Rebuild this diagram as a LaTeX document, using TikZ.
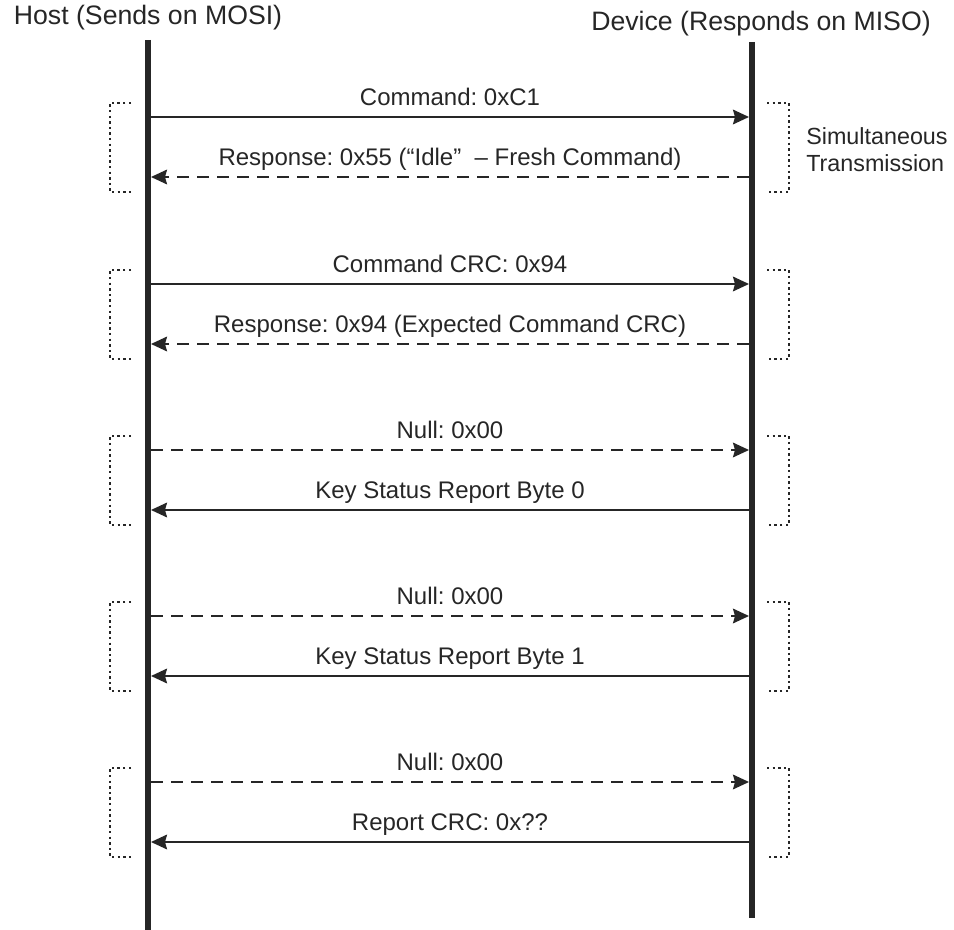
\documentclass[tikz,border=0pt]{standalone}
\usepackage{fontspec}
\setmainfont{Liberation Sans}
\usetikzlibrary{arrows.meta}
\frenchspacing

\begin{document}
\begin{tikzpicture}[x=0.75pt,y=-0.75pt,
    every node/.style={font=\fontsize{18}{20.25}\selectfont, text=black!85},
    header/.style={anchor=base, font=\fontsize{20}{24}\selectfont},
    lifeline/.style={line width=5.2pt, black!85},
    msg/.style={line width=1.6pt, black!85, -{Stealth[length=12pt,width=11pt,inset=1.5pt]}},
    dmsg/.style={msg, dash pattern=on 9pt off 6pt},
    bracket/.style={line width=1.8pt, black!85, dash pattern=on 1.8pt off 2.4pt},
    lbl/.style={midway, anchor=base, yshift=8.5pt}]
  \useasboundingbox (0,0) rectangle (954,930);
  \node[header] (host) at (148,25) {Host (Sends on MOSI)};
  \node[header] (device) at (761,31) {Device (Responds on MISO)};
  \coordinate (hosttop) at (148,40);
  \coordinate (hostbot) at (148,930);
  \coordinate (devtop) at (752,42);
  \coordinate (devbot) at (752,918);
  \draw[lifeline] (hosttop) -- (hostbot);
  \draw[lifeline] (devtop) -- (devbot);
  \foreach \y/\fs/\bs/\fwd/\bwd [count=\i] in {
      117/msg/dmsg/{Command: 0xC1}/{Response: 0x55 (“Idle”\ \ – Fresh Command)},
      284/msg/dmsg/{Command CRC: 0x94}/{Response: 0x94 (Expected Command CRC)},
      450/dmsg/msg/{Null: 0x00}/{Key Status Report Byte 0},
      616/dmsg/msg/{Null: 0x00}/{Key Status Report Byte 1},
      782/dmsg/msg/{Null: 0x00}/{Report CRC: 0x??}}
  {
    \coordinate (out\i) at (151,\y);
    \coordinate (in\i) at (749,\y);
    \coordinate (back\i) at (749,\y+60);
    \coordinate (ret\i) at (151,\y+60);
    \draw[\fs] (out\i) -- node[lbl] {\fwd} (in\i);
    \draw[\bs] (back\i) -- node[lbl] {\bwd} (ret\i);
    \draw[bracket] (131,\y-14) -- (110,\y-14) -- (110,\y+75) -- (131,\y+75);
    \draw[bracket] (767,\y-14) -- (789,\y-14) -- (789,\y+75) -- (767,\y+75);
  }
  \node[anchor=base west, align=left, inner xsep=0pt,
    font=\fontsize{17.5}{20.25}\selectfont] (simul) at (806,172) {Simultaneous\\Transmission};
\end{tikzpicture}
\end{document}
